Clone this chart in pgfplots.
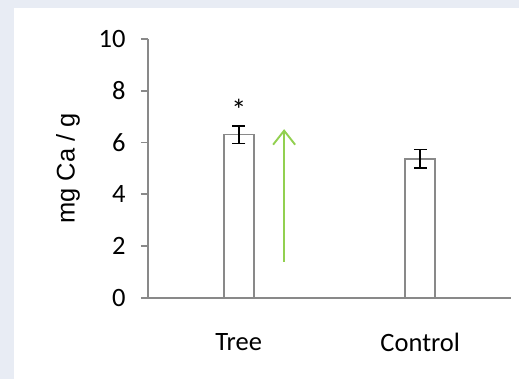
\documentclass[border=0pt]{standalone}
\usepackage{pgfplots}
\pgfplotsset{compat=1.18}
\usetikzlibrary{arrows.meta}
\usepackage{fontspec}
\setmainfont{Carlito}
\newfontfamily\arialfont{Liberation Sans}
\definecolor{bgc}{HTML}{E8ECF4}
\definecolor{axc}{HTML}{898989}
\definecolor{arrowgreen}{HTML}{92D050}
\begin{document}
\begin{tikzpicture}
\useasboundingbox (0pt,0pt) rectangle (519pt,379pt);
\fill[bgc] (0pt,0pt) rectangle (519pt,379pt);
\fill[white] (14pt,0pt) rectangle (519pt,371pt);
\begin{axis}[
  at={(148pt,81pt)}, anchor=south west,
  scale only axis, width=363pt, height=259pt,
  xmin=-0.5, xmax=1.5, ymin=0, ymax=10,
  axis x line*=bottom, axis y line*=left,
  axis line style={axc, line width=1.8pt},
  xtick={0,1}, xticklabels={Tree,Control},
  major x tick style={draw=none},
  extra x ticks={-0.5,0.5,1.5}, extra x tick labels={},
  extra x tick style={tick style={axc, line width=1.8pt}, major tick length=9pt, tick align=outside},
  ytick={0,2,4,6,8,10},
  tick align=outside,
  major tick length=7pt,
  tick style={axc, line width=1.8pt},
  ticklabel style={font=\fontsize{26.5}{30}\selectfont},
  yticklabel style={xshift=-12pt},
  xticklabel style={yshift=-25pt},
  /pgf/number format/assume math mode=true,
  ylabel={\arialfont mg Ca / g},
  ylabel style={font=\fontsize{25.5}{30}\selectfont, at={(axis description cs:-0.22,0.5)}, anchor=center},
  clip=false,
]
\addplot[ybar, bar width=30pt, fill=white, draw=axc, line width=1.8pt,
  error bars/.cd, y dir=both, y explicit,
  error bar style={black, line width=1.6pt},
  error mark options={rotate=90, mark size=6.5pt, line width=1.6pt, black}]
  coordinates {(0,6.31) +- (0,0.34) (1,5.37) +- (0,0.36)};
\addplot[arrowgreen, line width=1.9pt, -{Straight Barb[length=14pt,width=22pt]}]
  coordinates {(0.25,1.39) (0.25,6.52)};
\node[font=\fontsize{30}{34}\selectfont] at (axis cs:0,7.25) {*};
\end{axis}
\end{tikzpicture}
\end{document}
